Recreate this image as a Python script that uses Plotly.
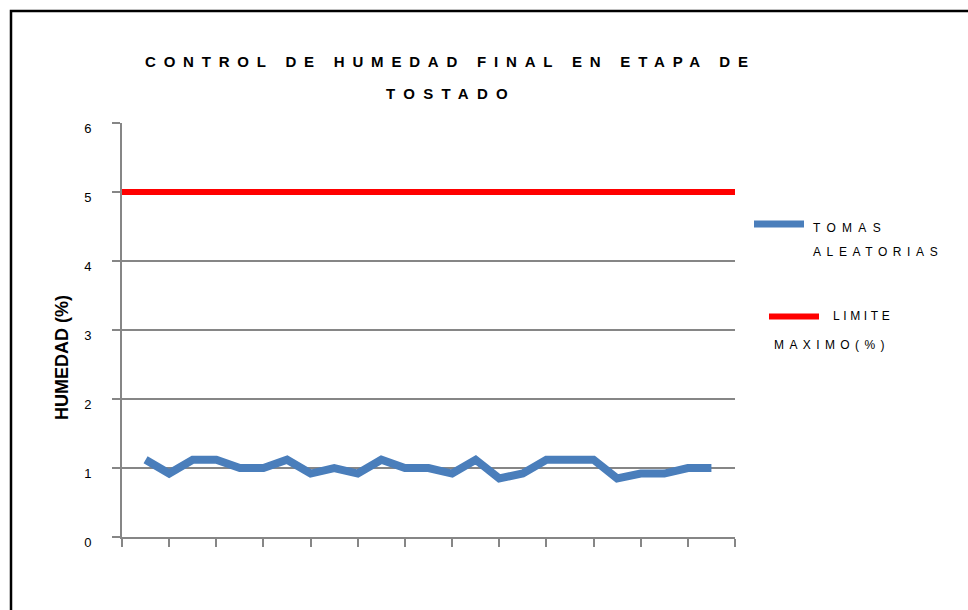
import plotly.graph_objects as go

# ---- data ----
muestra = list(range(1, 26))
humedad = [1.12, 0.92, 1.12, 1.12, 1.0, 1.0, 1.12, 0.92, 1.0, 0.92, 1.12, 1.0, 1.0,
           0.92, 1.12, 0.85, 0.92, 1.12, 1.12, 1.12, 0.85, 0.92, 0.92, 1.0, 1.0]
limite_x = [0, 26.4]
limite_y = [5, 5]
y_ticks = [0, 1, 2, 3, 4, 5, 6]
x_ticks = list(range(0, 27, 2))

W, H = 968, 610
L, R, T, B = 122, 968 - 735, 123, 610 - 537
PW, PH = W - L - R, H - T - B


def px(x):
    return (x - L) / PW


def py(y):
    return (H - B - y) / PH


GRAY = "#868686"
BLUE = "#4a7ebb"
RED = "#ff0000"
FONT = "Liberation Sans, Arial, sans-serif"

fig = go.Figure()
fig.add_trace(go.Scatter(x=muestra, y=humedad, mode="lines",
                         line=dict(color=BLUE, width=8), cliponaxis=False,
                         name="TOMAS ALEATORIAS"))
fig.add_trace(go.Scatter(x=limite_x, y=limite_y, mode="lines",
                         line=dict(color=RED, width=6), cliponaxis=False,
                         name="LIMITE MAXIMO (%)"))


def ls(text, sp):
    return '<span style="letter-spacing:%spx">%s</span>' % (sp, text)


def ann(x, y, text, size, anchor="left", angle=0):
    return dict(x=px(x), y=py(y), xref="paper", yref="paper", text=text, showarrow=False,
                xanchor=anchor, yanchor="middle", textangle=angle,
                font=dict(size=size, family=FONT, color="#000"))


annotations = [
    ann(143, 61, "<b>" + ls("CONTROL DE HUMEDAD FINAL EN ETAPA DE", 7.8) + "</b>", 15, "left"),
    ann(384, 94, "<b>" + ls("TOSTADO", 8.3) + "</b>", 15, "left"),
    ann(62, 358, "<b>HUMEDAD (%)</b>", 18, "center", -90),
    ann(811, 228, ls("TOMAS", 6.3), 12),
    ann(811, 252, ls("ALEATORIAS", 5.6), 12),
    ann(831, 316, ls("LIMITE", 3.6), 12),
    ann(772, 345, ls("MAXIMO(%)", 5.4), 12),
]

shapes = [
    dict(type="rect", xref="paper", yref="paper", x0=px(11), x1=px(1000), y0=py(11), y1=py(640),
         line=dict(color="#000", width=2.5), fillcolor="rgba(0,0,0,0)", layer="below"),
    dict(type="line", xref="paper", yref="paper", x0=px(754), x1=px(804), y0=py(224), y1=py(224),
         line=dict(color=BLUE, width=7)),
    dict(type="line", xref="paper", yref="paper", x0=px(769), x1=px(819), y0=py(316.5), y1=py(316.5),
         line=dict(color=RED, width=6)),
]

fig.update_layout(
    width=W, height=H,
    margin=dict(l=L, r=R, t=T, b=B, pad=0),
    paper_bgcolor="white", plot_bgcolor="white",
    showlegend=False,
    annotations=annotations,
    shapes=shapes,
    font=dict(family=FONT, color="#000"),
    xaxis=dict(range=[0, 26], tickvals=x_ticks, showticklabels=False, ticks="outside",
               ticklen=8, tickwidth=2, tickcolor=GRAY, showline=True, linecolor=GRAY,
               linewidth=2, showgrid=False, zeroline=False, fixedrange=True),
    yaxis=dict(range=[0, 6], tickvals=y_ticks, ticks="outside", ticklen=8, tickwidth=2,
               tickcolor=GRAY, showline=True, linecolor=GRAY, linewidth=2, showgrid=True,
               gridcolor=GRAY, gridwidth=2, zeroline=False, ticklabelstandoff=18,
               ticklabelshift=5, tickfont=dict(size=13, family=FONT, color="#000"),
               fixedrange=True),
)

fig.write_html("out.html", config={"displayModeBar": False},
               post_script="document.body.style.margin='0px';document.body.style.overflow='hidden';")
